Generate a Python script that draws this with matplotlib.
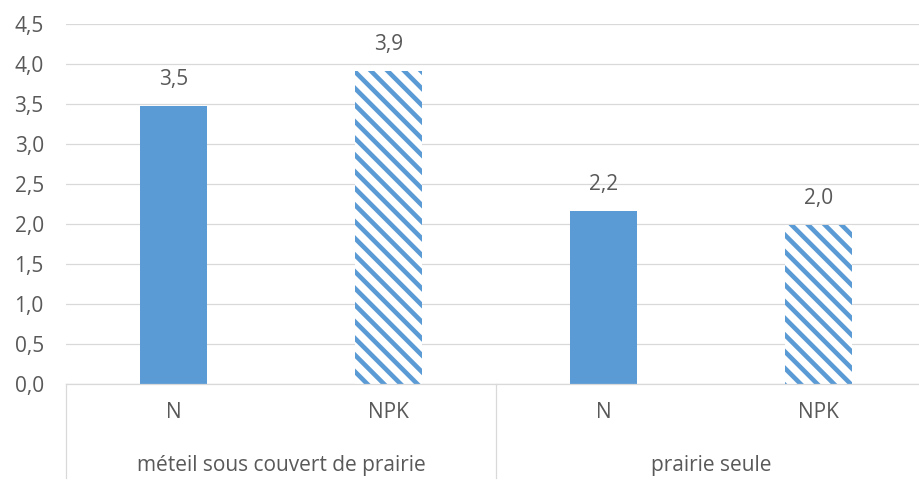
import matplotlib.pyplot as plt
import matplotlib.transforms as mtransforms
from matplotlib.ticker import FuncFormatter

# Werte aus dem Diagramm
groupes = ["méteil sous couvert de prairie", "prairie seule"]
traitements = ["N", "NPK", "N", "NPK"]
valeurs = [3.48, 3.91, 2.16, 1.99]
etiquettes = ["3,5", "3,9", "2,2", "2,0"]
hachures = [False, True, False, True]
y_ticks = [0.0, 0.5, 1.0, 1.5, 2.0, 2.5, 3.0, 3.5, 4.0, 4.5]

bleu = "#5B9BD5"
gris_txt = "#595959"
gris_lig = "#D9D9D9"
fs = 15

plt.rcParams['font.family'] = ['Open Sans', 'DejaVu Sans']
plt.rcParams['hatch.linewidth'] = 3.3

W, H = 920, 487
fig = plt.figure(figsize=(W / 100, H / 100), dpi=100)
ax = fig.add_axes([66 / W, (H - 384) / H, 860 / W, 360 / H])

x = list(range(len(valeurs)))
for xi, v, h in zip(x, valeurs, hachures):
    if h:
        ax.bar(xi, v, width=0.316, color="white", edgecolor=bleu,
               hatch="\\\\", linewidth=0, zorder=2)
    else:
        ax.bar(xi, v, width=0.316, color=bleu, linewidth=0, zorder=2)

for xi, v, t in zip(x, valeurs, etiquettes):
    ax.annotate(t, (xi, v), xytext=(0, 19), textcoords="offset points",
                ha="center", va="center", fontsize=fs, color=gris_txt)

ax.set_xlim(-0.5, len(valeurs) - 0.5)
ax.set_ylim(0, 4.5)
ax.set_yticks(y_ticks)
ax.yaxis.set_major_formatter(FuncFormatter(lambda v, p: f"{v:.1f}".replace(".", ",")))
ax.tick_params(axis="y", length=0, pad=16, labelsize=fs, labelcolor=gris_txt)
ax.set_xticks([])
ax.grid(axis="y", color=gris_lig, linewidth=0.9, zorder=0)
ax.set_axisbelow(True)
for s in ["top", "right", "left"]:
    ax.spines[s].set_visible(False)
ax.spines["bottom"].set_color(gris_lig)
ax.spines["bottom"].set_linewidth(0.9)

# Kategorieachse mit zwei Ebenen
trans = mtransforms.blended_transform_factory(ax.transData, ax.transAxes)
for xi, t in zip(x, traitements):
    ax.text(xi, -29 / 360, t, transform=trans, ha="center", va="center",
            fontsize=fs, color=gris_txt)
for gi, g in enumerate(groupes):
    ax.text(gi * 2 + 0.5, -82 / 360, g, transform=trans, ha="center",
            va="center", fontsize=fs, color=gris_txt)
for xs in [-0.5, 1.5, 3.5]:
    ax.plot([xs, xs], [0, -94 / 360], transform=trans, color=gris_lig,
            linewidth=0.9, clip_on=False)

fig.savefig("out.png", dpi=100)
